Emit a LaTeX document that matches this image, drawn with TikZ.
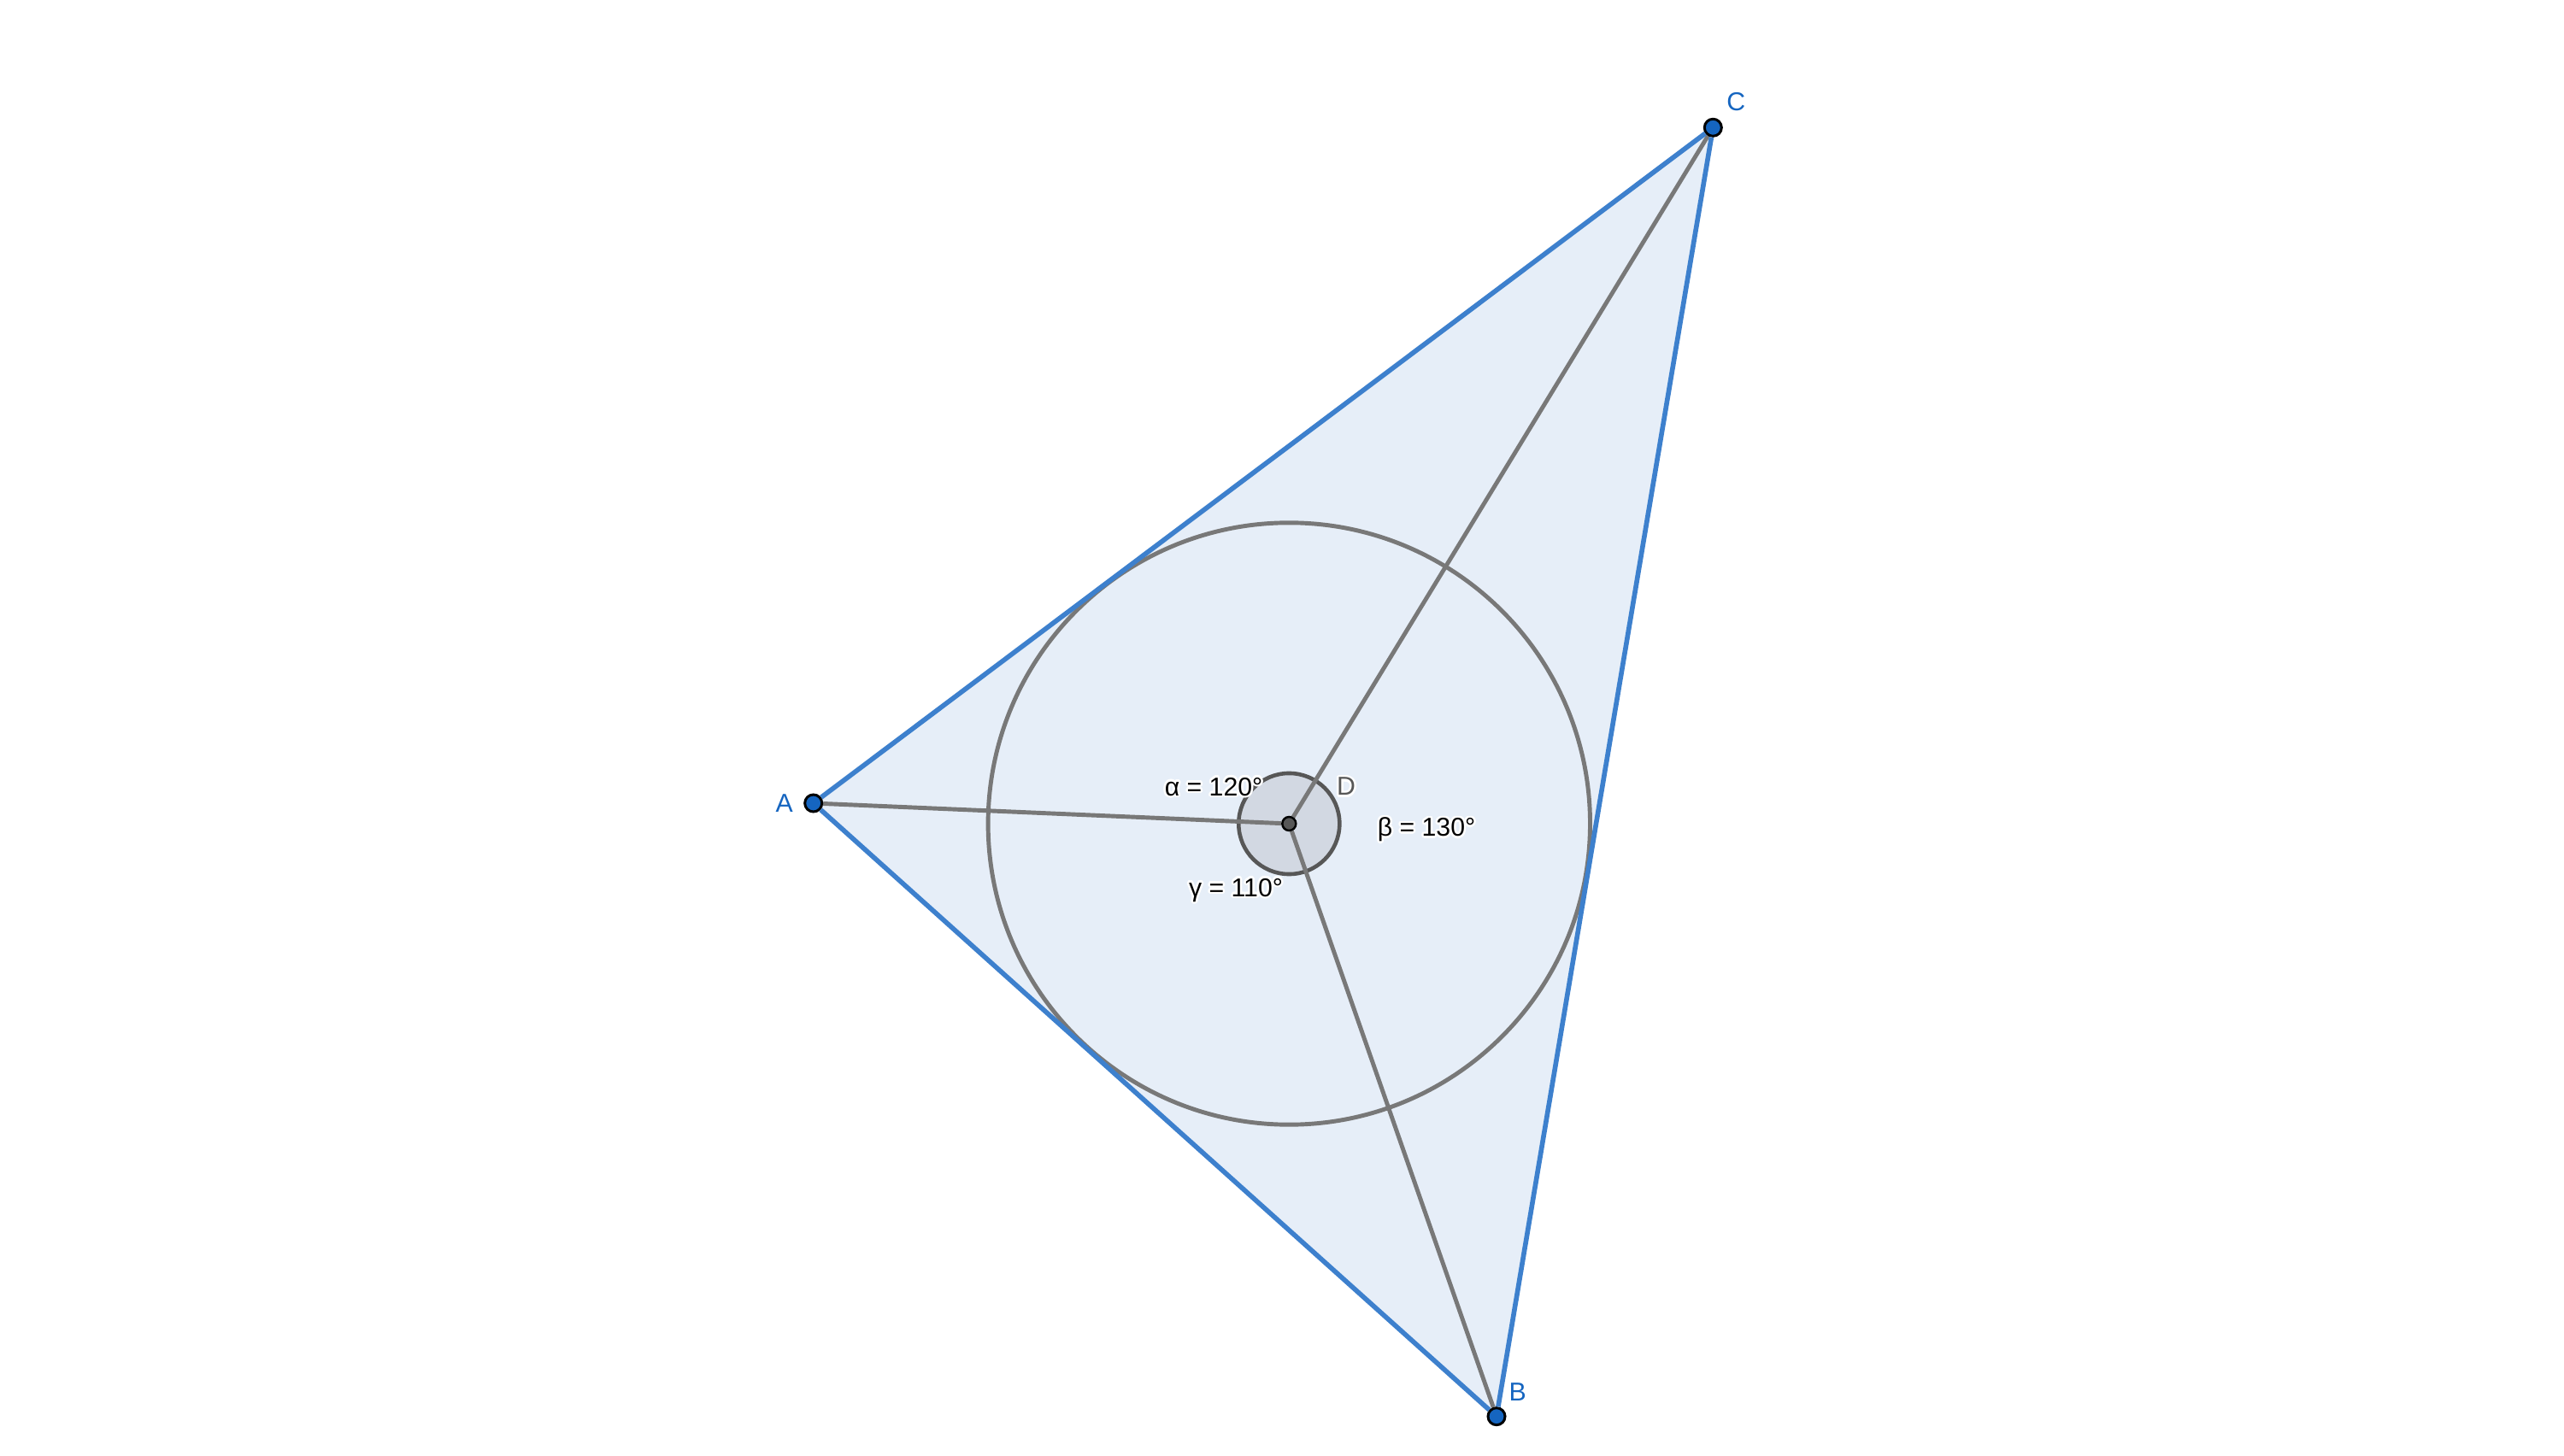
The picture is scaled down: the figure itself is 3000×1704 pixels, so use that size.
\documentclass[tikz,border=0pt]{standalone}
\usepackage{fontspec}
\setmainfont{Liberation Sans}
\usepackage{contour}
\contourlength{0.7pt}
\usetikzlibrary{backgrounds}
\definecolor{ptblue}{HTML}{1565C0}
\definecolor{sideblue}{HTML}{3D80CD}
\definecolor{trifill}{HTML}{E6EEF8}
\definecolor{segray}{HTML}{787878}
\definecolor{dgray}{HTML}{575757}
\definecolor{discfill}{HTML}{D2D8E2}

\begin{document}
\begin{tikzpicture}[x=0.01cm, y=-0.01cm, font=\fontsize{8.6}{10.3}\selectfont]
\useasboundingbox (0,0) rectangle (3000,1704);
\node[shape=circle, draw=black, fill=ptblue, line width=0.85pt, minimum size=0.2cm, inner sep=0pt, label={[text=ptblue, label distance=0pt]180:A}] (A) at (951.7,940) {}; 
\node[shape=circle, draw=black, fill=ptblue, line width=0.85pt, minimum size=0.2cm, inner sep=0pt, label={[text=ptblue, label distance=-1.5pt]70:B}] (B) at (1751,1657.7) {}; 
\node[shape=circle, draw=black, fill=ptblue, line width=0.85pt, minimum size=0.2cm, inner sep=0pt, label={[text=ptblue, label distance=-1pt]64:C}] (C) at (2004.3,149.3) {}; 
\node[shape=circle, draw=black, fill=dgray, line width=0.7pt, minimum size=0.16cm, inner sep=0pt] (D) at (1508.3,964) {}; 
\node[text=dgray] (Dl) at (1575,921.7) {\contour{white}{D}};
\node (al) at (1420,922) {\contour{white}{α = 120°}};
\node (bl) at (1669,972) {\contour{white}{β = 130°}};
\node (gl) at (1446,1043) {\contour{white}{γ = 110°}};
\begin{pgfonlayer}{background}
\fill[trifill] (A.center) -- (B.center) -- (C.center) -- cycle;
\draw[segray, line width=1.4pt] (D.center) circle (3.52cm);
\draw[dgray, fill=discfill, line width=1.3pt] (D.center) circle (0.59cm);
\path [-, line width=1.4pt, draw=segray] (D) edge (A);
\path [-, line width=1.4pt, draw=segray] (D) edge (B);
\path [-, line width=1.4pt, draw=segray] (D) edge (C);
\end{pgfonlayer}
\path [-, line width=1.6pt, draw=sideblue] (A) edge (B);
\path [-, line width=1.6pt, draw=sideblue] (B) edge (C);
\path [-, line width=1.6pt, draw=sideblue] (C) edge (A);
\end{tikzpicture}
\end{document}
